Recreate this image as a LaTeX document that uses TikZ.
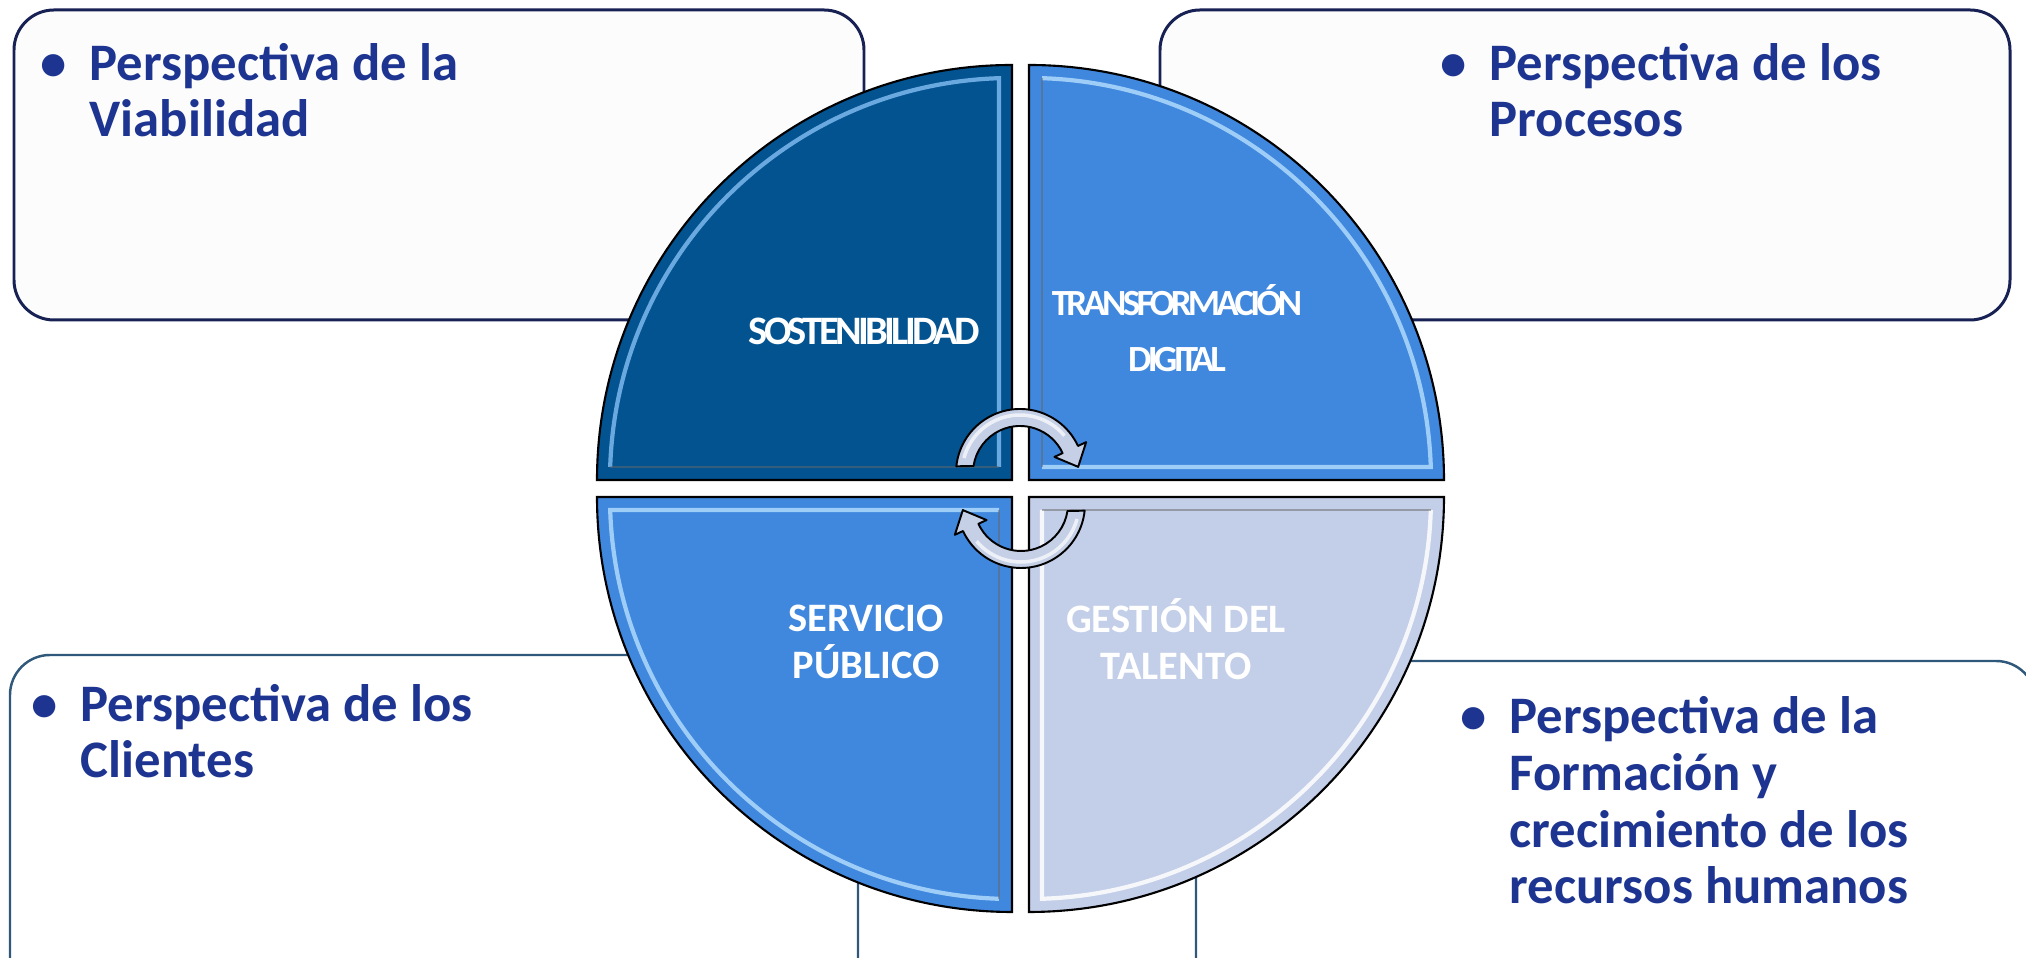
\documentclass[tikz,border=0pt]{standalone}
\usepackage{fontspec}
\setmainfont{Carlito}
\usetikzlibrary{positioning}
\definecolor{Marino}{RGB}{29,53,145}
\definecolor{BordeSup}{RGB}{24,33,84}
\definecolor{BordeInf}{RGB}{48,88,122}
\definecolor{AzulOsc}{RGB}{3,83,145}
\definecolor{AzulMed}{RGB}{64,135,222}
\definecolor{Lavanda}{RGB}{195,206,232}
\definecolor{BrilloOsc}{RGB}{125,185,238}
\definecolor{BrilloMed}{RGB}{175,218,252}
\definecolor{Flecha}{RGB}{197,208,230}

\newcommand{\bul}{\makebox[4.9mm][l]{\textbullet}}
\newcommand{\ind}{\hspace*{4.9mm}}
% quarter of the wheel: corner, rotation, fill, highlight
\newcommand{\cuadrante}[4]{%
  \begin{scope}[shift={#1}, rotate=#2]
    \fill[#3] (0,0) -- (415,0) arc[start angle=0, end angle=90, radius=415] -- cycle;
    \draw[#4, line width=1.2pt, opacity=.85] (13,13) -- (401.8,13) arc[start angle=1.85, end angle=88.15, radius=402];
    \draw[black!60, line width=.5pt, opacity=.5] (13,13) -- (13,401.8);
    \draw[black, line width=.6pt] (0,0) -- (415,0) arc[start angle=0, end angle=90, radius=415] -- cycle;
  \end{scope}}

\tikzset{
  persbox/.style={rounded corners=4mm, fill=#1},
  perstext/.style={inner sep=0pt, align=left, text=Marino, font=\fontsize{15}{16.2}\selectfont\bfseries},
  quadlabel/.style={inner sep=0pt, align=center, text=white, font=\fontsize{11.5}{13.4}\selectfont\bfseries},
}

\begin{document}
\begin{tikzpicture}[x=0.1mm, y=0.1mm]
\useasboundingbox (0,0) rectangle (2026,958);
\clip (0,0) rectangle (2026,958);
%
% boxes
\draw[persbox=black!1, draw=BordeSup, line width=.85pt] (14,638) rectangle (864,948);
\draw[persbox=black!1, draw=BordeSup, line width=.85pt] (1160,638) rectangle (2010,948);
\draw[persbox=white, draw=BordeInf, line width=.7pt] (10,-60) rectangle (858,303);
\draw[persbox=white, draw=BordeInf, line width=.7pt] (1196,-60) rectangle (2036,297);
%
\node[perstext, anchor=base west] (viab) at (40,821) {\bul Perspectiva de la\\\ind Viabilidad};
\node[perstext, anchor=base west] (proc) at (1440,821) {\bul Perspectiva de los\\\ind Procesos};
\node[perstext, anchor=base west] (clie) at (31,180) {\bul Perspectiva de los\\\ind Clientes};
\node[perstext, anchor=base west] (form) at (1460,54) {\bul Perspectiva de la\\\ind Formación y\\\ind crecimiento de los\\\ind recursos humanos};
%
% wheel
\cuadrante{(1012,478)}{90}{AzulOsc}{BrilloOsc}
\cuadrante{(1029,478)}{0}{AzulMed}{BrilloMed}
\cuadrante{(1012,461)}{180}{AzulMed}{BrilloMed}
\cuadrante{(1029,461)}{270}{Lavanda}{white}
%
\node[quadlabel, anchor=base, font=\fontsize{11.5}{13.4}\selectfont\bfseries\addfontfeature{LetterSpace=-9}] (sost) at (864,613) {SOSTENIBILIDAD};
\node[quadlabel, anchor=base, font=\fontsize{10.5}{16.2}\selectfont\bfseries\addfontfeature{LetterSpace=-10}] (trans) at (1177,586) {TRANSFORMACIÓN\\DIGITAL};
\node[quadlabel, anchor=base] (serv) at (866,279) {SERVICIO\\PÚBLICO};
\node[quadlabel, anchor=base] (gest) at (1176,278) {GESTIÓN DEL\\TALENTO};
%
% turning arrows
\foreach \ang in {0,180}{
\begin{scope}[rotate around={\ang:(1020.5,469.5)}, shift={(1020,485)}]
  \fill[Flecha] (174:64) arc[start angle=174, end angle=25, radius=64] -- (25:73) -- (6:58.5) -- (25:38) -- (25:47) arc[start angle=25, end angle=171.4, radius=47] -- cycle;
  \draw[white, line width=1pt, opacity=.7] (165:58) arc[start angle=165, end angle=40, radius=58];
  \draw[black, line width=.55pt, line join=round] (174:64) arc[start angle=174, end angle=25, radius=64] -- (25:73) -- (6:58.5) -- (25:38) -- (25:47) arc[start angle=25, end angle=171.4, radius=47] -- cycle;
\end{scope}
}
\end{tikzpicture}
\end{document}
